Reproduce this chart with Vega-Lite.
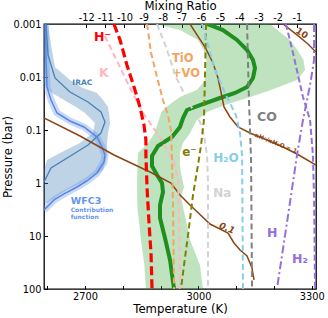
{
  "$schema": "https://vega.github.io/schema/vega-lite/v6.json",
  "width": 272,
  "height": 265,
  "autosize": {"type": "none"},
  "padding": {"left": 44, "top": 24, "right": 12, "bottom": 29},
  "config": {
    "font": "DejaVu Sans",
    "view": {"stroke": "black", "strokeWidth": 1.3},
    "axis": {"grid": false, "domain": false, "tickColor": "black", "tickSize": -3.5, "tickWidth": 1, "labelColor": "black", "titleColor": "black", "labelFontSize": 9.8, "titleFontSize": 11.7, "titleFontWeight": "normal", "labelFont": "DejaVu Sans", "titleFont": "DejaVu Sans"}
  },
  "datasets": {
    "species": [
      {"sp":"H-","mr":-10.55,"p":0.001},{"sp":"H-","mr":-10.23,"p":0.002},{"sp":"H-","mr":-9.87,"p":0.00594},{"sp":"H-","mr":-9.5,"p":0.01545},{"sp":"H-","mr":-9.19,"p":0.0368},{"sp":"H-","mr":-8.98,"p":0.0805},{"sp":"H-","mr":-8.88,"p":0.1545},{"sp":"H-","mr":-8.88,"p":0.296},{"sp":"H-","mr":-8.82,"p":1.24},{"sp":"H-","mr":-8.72,"p":5.44},{"sp":"H-","mr":-8.61,"p":22.8},{"sp":"H-","mr":-8.56,"p":100},
      {"sp":"K","mr":-11.02,"p":0.00168},{"sp":"K","mr":-10.49,"p":0.00419},{"sp":"K","mr":-9.71,"p":0.0161},{"sp":"K","mr":-9.03,"p":0.0478},{"sp":"K","mr":-8.3,"p":0.114},{"sp":"K","mr":-7.83,"p":0.219},{"sp":"K","mr":-7.41,"p":0.402},{"sp":"K","mr":-7.2,"p":0.878},{"sp":"K","mr":-7.15,"p":4.99},{"sp":"K","mr":-7.1,"p":100},
      {"sp":"TiO","mr":-8.82,"p":0.001},{"sp":"TiO","mr":-8.61,"p":0.00353},{"sp":"TiO","mr":-8.3,"p":0.01},{"sp":"TiO","mr":-7.99,"p":0.0272},{"sp":"TiO","mr":-7.73,"p":0.0521},{"sp":"TiO","mr":-7.57,"p":0.1},{"sp":"TiO","mr":-7.52,"p":0.296},{"sp":"TiO","mr":-7.47,"p":2.09},{"sp":"TiO","mr":-7.41,"p":100},
      {"sp":"Na","mr":-8.3,"p":0.001},{"sp":"Na","mr":-7.83,"p":0.00272},{"sp":"Na","mr":-7.31,"p":0.01},{"sp":"Na","mr":-6.84,"p":0.0219},{"sp":"Na","mr":-6.42,"p":0.0419},{"sp":"Na","mr":-6.06,"p":0.0706},{"sp":"Na","mr":-5.85,"p":0.124},{"sp":"Na","mr":-5.69,"p":0.296},{"sp":"Na","mr":-5.64,"p":0.878},{"sp":"Na","mr":-5.64,"p":100},
      {"sp":"e-","mr":-5.74,"p":0.001},{"sp":"e-","mr":-5.8,"p":0.0114},{"sp":"e-","mr":-5.85,"p":0.0648},{"sp":"e-","mr":-6.0,"p":0.192},{"sp":"e-","mr":-6.16,"p":0.458},{"sp":"e-","mr":-6.42,"p":1.68},{"sp":"e-","mr":-6.68,"p":9.58},{"sp":"e-","mr":-6.89,"p":35.3},{"sp":"e-","mr":-7.05,"p":100},
      {"sp":"H2O","mr":-5.95,"p":0.001},{"sp":"H2O","mr":-5.64,"p":0.00249},{"sp":"H2O","mr":-5.27,"p":0.00738},{"sp":"H2O","mr":-4.7,"p":0.0219},{"sp":"H2O","mr":-4.18,"p":0.0521},{"sp":"H2O","mr":-3.97,"p":0.114},{"sp":"H2O","mr":-3.86,"p":0.296},{"sp":"H2O","mr":-3.81,"p":100},
      {"sp":"CO","mr":-3.6,"p":0.001},{"sp":"CO","mr":-3.5,"p":0.0272},{"sp":"CO","mr":-3.39,"p":0.368},{"sp":"CO","mr":-3.34,"p":100},
      {"sp":"H","mr":-0.1,"p":0.001},{"sp":"H","mr":-0.1,"p":0.00478},{"sp":"H","mr":-0.31,"p":0.0142},{"sp":"H","mr":-0.68,"p":0.0648},{"sp":"H","mr":-0.99,"p":0.296},{"sp":"H","mr":-1.51,"p":5.44},{"sp":"H","mr":-2.04,"p":100},
      {"sp":"H2","mr":-1.57,"p":0.001},{"sp":"H2","mr":-1.2,"p":0.00353},{"sp":"H2","mr":-0.68,"p":0.0238},{"sp":"H2","mr":-0.31,"p":0.0648},{"sp":"H2","mr":-0.16,"p":0.296},{"sp":"H2","mr":-0.1,"p":2.09},{"sp":"H2","mr":-0.05,"p":100}
    ],
    "band": [
      {"p":0.001,"lo":2885,"hi":3189},{"p":0.0013,"lo":2951,"hi":3209},{"p":0.002,"lo":2999,"hi":3242},{"p":0.0031,"lo":3014,"hi":3262},{"p":0.00478,"lo":3021,"hi":3278},{"p":0.00738,"lo":3020,"hi":3282},{"p":0.0114,"lo":3018,"hi":3261},{"p":0.0176,"lo":2996,"hi":3192},{"p":0.0238,"lo":2951,"hi":3137},{"p":0.0338,"lo":2922,"hi":3070},{"p":0.0458,"lo":2902,"hi":3023},{"p":0.0648,"lo":2895,"hi":2996},{"p":0.114,"lo":2884,"hi":2978},{"p":0.176,"lo":2867,"hi":2959},{"p":0.272,"lo":2840,"hi":2951},{"p":0.458,"lo":2839,"hi":2951},{"p":0.706,"lo":2838,"hi":2955},{"p":1.19,"lo":2838,"hi":2962},{"p":1.84,"lo":2838,"hi":2954},{"p":3.23,"lo":2839,"hi":2961},{"p":6.2,"lo":2844,"hi":2970},{"p":11.9,"lo":2848,"hi":2978},{"p":35.3,"lo":2857,"hi":3004},{"p":100,"lo":2861,"hi":3012}
    ],
    "gline": [
      {"t":3022.7,"p":0.001},{"t":3065,"p":0.0013},{"t":3102,"p":0.002},{"t":3128.6,"p":0.0031},{"t":3144.4,"p":0.00478},{"t":3149.7,"p":0.00676},{"t":3144.4,"p":0.01044},{"t":3128.6,"p":0.01545},{"t":3096.8,"p":0.02},{"t":3057.1,"p":0.0249},{"t":3004.2,"p":0.0338},{"t":2969.8,"p":0.0419},{"t":2959.3,"p":0.0594},{"t":2951.3,"p":0.0878},{"t":2930.2,"p":0.1356},{"t":2893.1,"p":0.2},{"t":2877.2,"p":0.31},{"t":2877.2,"p":0.478},{"t":2890.5,"p":0.706},{"t":2903.7,"p":1.0},{"t":2906.3,"p":1.48},{"t":2898.4,"p":2.6},{"t":2898.4,"p":4.58},{"t":2911.6,"p":10.9},{"t":2924.9,"p":28.4},{"t":2935.5,"p":100}
    ],
    "brown": [
      {"c":"0.1","t":2575.7,"p":0.0521},{"c":"0.1","t":2591.5,"p":0.0594},{"c":"0.1","t":2686.8,"p":0.1298},{"c":"0.1","t":2776.7,"p":0.296},{"c":"0.1","t":2872,"p":0.62},{"c":"0.1","t":2927.5,"p":1.0},{"c":"0.1","t":2951.3,"p":1.68},{"c":"0.1","t":2977.8,"p":2.6},{"c":"0.1","t":3030.7,"p":5.94},{"c":"0.1","t":3078.3,"p":8.78},{"c":"0.1","t":3094.2,"p":13.56},{"c":"0.1","t":3110.1,"p":18.37},{"c":"0.1","t":3128.6,"p":23.84},{"c":"0.1","t":3141.8,"p":40.2},{"c":"0.1","t":3147.1,"p":67.6},
      {"c":"1","t":2977.8,"p":0.001},{"c":"1","t":2996.3,"p":0.00161},{"c":"1","t":3017.5,"p":0.00272},{"c":"1","t":3038.6,"p":0.00544},{"c":"1","t":3051.9,"p":0.01044},{"c":"1","t":3059.8,"p":0.0192},{"c":"1","t":3067.7,"p":0.0368},{"c":"1","t":3083.6,"p":0.0568},{"c":"1","t":3104.8,"p":0.0878},{"c":"1","t":3136.5,"p":0.114},{"c":"1","t":3181.5,"p":0.1545},{"c":"1","t":3223.8,"p":0.2093},{"c":"1","t":3260.8,"p":0.2837},{"c":"1","t":3311.1,"p":0.4575},
      {"c":"10","t":3223.8,"p":0.001},{"c":"10","t":3260.8,"p":0.00161},{"c":"10","t":3289.9,"p":0.00238},{"c":"10","t":3311.1,"p":0.00338}
    ],
    "irac_band": [
      {"p":0.001,"lo":0,"hi":0.066},{"p":0.00249,"lo":0,"hi":0.115},{"p":0.00648,"lo":0,"hi":0.18},{"p":0.0114,"lo":0,"hi":0.426},{"p":0.0161,"lo":0.033,"hi":0.639},{"p":0.02,"lo":0.131,"hi":0.869},{"p":0.0272,"lo":0.328,"hi":0.967},{"p":0.0368,"lo":0.525,"hi":1.049},{"p":0.0478,"lo":0.672,"hi":1.066},{"p":0.0738,"lo":0.836,"hi":1.082},{"p":0.114,"lo":0.803,"hi":1.049},{"p":0.176,"lo":0.59,"hi":1.033},{"p":0.272,"lo":0.262,"hi":1.033},{"p":0.368,"lo":0.049,"hi":1.016},{"p":0.568,"lo":0,"hi":0.967},{"p":0.878,"lo":0,"hi":0.721},{"p":1.356,"lo":0,"hi":0.377},{"p":2.384,"lo":0,"hi":0.049}
    ],
    "irac": [
      {"cf":0.033,"p":0.001},{"cf":0.066,"p":0.00385},{"cf":0.18,"p":0.0104},{"cf":0.426,"p":0.0192},{"cf":0.721,"p":0.0296},{"cf":0.934,"p":0.0458},{"cf":1.0,"p":0.0706},{"cf":0.934,"p":0.114},{"cf":0.721,"p":0.192},{"cf":0.459,"p":0.296},{"cf":0.115,"p":0.521},{"cf":0,"p":0.958}
    ],
    "wfc3": [
      {"cf":0.025,"p":0.001},{"cf":0.033,"p":0.00478},{"cf":0.049,"p":0.0155},{"cf":0.115,"p":0.0272},{"cf":0.213,"p":0.0478},{"cf":0.426,"p":0.0676},{"cf":0.656,"p":0.0878},{"cf":0.869,"p":0.136},{"cf":0.951,"p":0.209},{"cf":1.0,"p":0.296},{"cf":0.984,"p":0.402},{"cf":0.869,"p":0.648},{"cf":0.705,"p":0.917},{"cf":0.541,"p":1.19},{"cf":0.328,"p":1.61},{"cf":0.164,"p":2.09},{"cf":0,"p":3.23}
    ]
  },
  "encoding": {
    "y": {"field": "p", "type": "quantitative", "scale": {"type": "log", "domain": [0.001, 100], "reverse": true, "nice": false}, "axis": {"title": "Pressure (bar)", "values": [0.001, 0.01, 0.1, 1, 10, 100], "format": "~g", "labelPadding": 6.5, "titlePadding": -1}}
  },
  "layer": [
    {
      "encoding": {"x": {"field": "cf", "type": "quantitative", "scale": {"domain": [0, 4.459], "nice": false, "zero": false}, "axis": null}},
      "layer": [
        {"data": {"name": "irac_band"}, "mark": {"type": "area", "orient": "horizontal", "color": "#4682b4", "opacity": 0.35, "clip": true}, "encoding": {"x": {"field": "lo", "type": "quantitative", "scale": {"domain": [0, 4.459], "nice": false, "zero": false}, "axis": null}, "x2": {"field": "hi"}}},
        {"data": {"name": "wfc3"}, "mark": {"type": "line", "color": "#6495ed", "opacity": 0.35, "strokeWidth": 7, "clip": true}, "encoding": {"order": {"field": "p", "type": "quantitative"}}},
        {"data": {"name": "irac"}, "mark": {"type": "line", "color": "#4682b4", "strokeWidth": 1.3, "clip": true}, "encoding": {"order": {"field": "p", "type": "quantitative"}}},
        {"data": {"name": "wfc3"}, "mark": {"type": "line", "color": "#5a86e0", "strokeWidth": 1.5, "clip": true}, "encoding": {"order": {"field": "p", "type": "quantitative"}}},
        {"data": {"values": [{"cf": 0.628, "p": 0.01315, "txt": "IRAC"}]}, "mark": {"type": "text", "color": "#4a7fb8", "fontWeight": "bold", "fontSize": 7.5, "align": "center", "baseline": "middle"}, "encoding": {"text": {"field": "txt"}}},
        {"data": {"values": [{"cf": 0.438, "p": 2.19, "txt": "WFC3"}]}, "mark": {"type": "text", "color": "#6495ed", "fontWeight": "bold", "fontSize": 9.5, "align": "left", "baseline": "middle"}, "encoding": {"text": {"field": "txt"}}},
        {"data": {"values": [{"cf": 0.438, "p": 3.23, "txt": "Contribution"}, {"cf": 0.438, "p": 4.29, "txt": "function"}]}, "mark": {"type": "text", "color": "#6495ed", "fontWeight": "bold", "fontSize": 6, "align": "left", "baseline": "middle"}, "encoding": {"text": {"field": "txt"}}}
      ]
    },
    {
      "encoding": {"x": {"field": "t", "type": "quantitative", "scale": {"domain": [2591.5, 3311.1], "nice": false, "zero": false}, "axis": {"orient": "bottom", "title": "Temperature (K)", "values": [2600, 2700, 2800, 2900, 3000, 3100, 3200, 3300], "labelExpr": "datum.value % 300 === 0 ? format(datum.value, 'd') : ''", "labelPadding": 5.5, "titlePadding": 3}}},
      "layer": [
        {"data": {"name": "band"}, "mark": {"type": "area", "orient": "horizontal", "color": "#2ca02c", "opacity": 0.3, "clip": true}, "encoding": {"x": {"field": "lo", "type": "quantitative", "scale": {"domain": [2591.5, 3311.1], "nice": false, "zero": false}, "axis": {"orient": "bottom", "title": "Temperature (K)", "values": [2600, 2700, 2800, 2900, 3000, 3100, 3200, 3300], "labelExpr": "datum.value % 300 === 0 ? format(datum.value, 'd') : ''", "labelPadding": 5.5, "titlePadding": 3}}, "x2": {"field": "hi"}}},
        {"data": {"name": "gline"}, "mark": {"type": "line", "color": "#1f8f1f", "strokeWidth": 4, "clip": true}, "encoding": {"order": {"field": "p", "type": "quantitative"}}},
        {"data": {"name": "brown"}, "mark": {"type": "line", "color": "#8b4513", "strokeWidth": 1.5, "clip": true}, "encoding": {"detail": {"field": "c", "type": "nominal"}, "order": {"field": "p", "type": "quantitative"}}},
        {"data": {"values": [{"t": 2724, "p": 0.00176, "txt": "H⁻"}]}, "mark": {"type": "text", "color": "#ff0000", "fontWeight": "bold", "fontSize": 12.5, "align": "left", "baseline": "middle"}, "encoding": {"text": {"field": "txt"}}},
        {"data": {"values": [{"t": 2737, "p": 0.0084, "txt": "K"}]}, "mark": {"type": "text", "color": "#ffb6c1", "fontWeight": "bold", "fontSize": 12.5, "align": "left", "baseline": "middle"}, "encoding": {"text": {"field": "txt"}}},
        {"data": {"values": [{"t": 2930, "p": 0.00465, "txt": "TiO"}, {"t": 2930, "p": 0.0089, "txt": "+VO"}]}, "mark": {"type": "text", "color": "#f4a460", "fontWeight": "bold", "fontSize": 11.5, "align": "left", "baseline": "middle"}, "encoding": {"text": {"field": "txt"}}},
        {"data": {"values": [{"t": 2957, "p": 0.26, "txt": "e⁻"}]}, "mark": {"type": "text", "color": "#808000", "fontWeight": "bold", "fontSize": 12, "align": "left", "baseline": "middle"}, "encoding": {"text": {"field": "txt"}}},
        {"data": {"values": [{"t": 3039, "p": 0.338, "txt": "H₂O"}]}, "mark": {"type": "text", "color": "#87ceeb", "fontWeight": "bold", "fontSize": 12, "align": "left", "baseline": "middle"}, "encoding": {"text": {"field": "txt"}}},
        {"data": {"values": [{"t": 3039, "p": 1.545, "txt": "Na"}]}, "mark": {"type": "text", "color": "#d3d3d3", "fontWeight": "bold", "fontSize": 12, "align": "left", "baseline": "middle"}, "encoding": {"text": {"field": "txt"}}},
        {"data": {"values": [{"t": 3155, "p": 0.0568, "txt": "CO"}]}, "mark": {"type": "text", "color": "#808080", "fontWeight": "bold", "fontSize": 12.5, "align": "left", "baseline": "middle"}, "encoding": {"text": {"field": "txt"}}},
        {"data": {"values": [{"t": 3181.5, "p": 8.78, "txt": "H"}, {"t": 3247.6, "p": 27.2, "txt": "H₂"}]}, "mark": {"type": "text", "color": "#9370db", "fontWeight": "bold", "fontSize": 12.5, "align": "left", "baseline": "middle"}, "encoding": {"text": {"field": "txt"}}},
        {"data": {"values": [{"t": 3274, "p": 0.00148, "txt": "10"}]}, "mark": {"type": "text", "color": "#8b4513", "fontWeight": "bold", "fontSize": 9, "angle": 35, "align": "center", "baseline": "middle"}, "encoding": {"text": {"field": "txt"}}},
        {"data": {"values": [{"t": 3075.7, "p": 7.06, "txt": "0.1"}]}, "mark": {"type": "text", "color": "#8b4513", "fontWeight": "bold", "fontStyle": "italic", "fontSize": 9, "angle": 22, "align": "center", "baseline": "middle"}, "encoding": {"text": {"field": "txt"}}},
        {"data": {"values": [{"t": 3205, "p": 0.176, "txt": "κH⁻/κH₂O = 1"}]}, "mark": {"type": "text", "color": "#8b4513", "fontWeight": "bold", "fontSize": 6, "angle": 22, "align": "center", "baseline": "middle"}, "encoding": {"text": {"field": "txt"}}}
      ]
    },
    {
      "encoding": {"x": {"field": "mr", "type": "quantitative", "scale": {"domain": [-14.2, 0], "nice": false, "zero": false}, "axis": {"orient": "top", "title": "Mixing Ratio", "values": [-12, -11, -10, -9, -8, -7, -6, -5, -4, -3, -2, -1], "labelExpr": "'-' + abs(datum.value)", "labelPadding": 5, "titlePadding": 1}}},
      "layer": [
        {"data": {"name": "species"}, "transform": [{"filter": "datum.sp !== 'H-'"}], "mark": {"type": "line", "strokeWidth": 2, "clip": true}, "encoding": {
          "color": {"field": "sp", "type": "nominal", "legend": null, "scale": {"domain": ["K", "TiO", "Na", "e-", "H2O", "CO", "H", "H2"], "range": ["#ffb6c1", "#f4a460", "#d3d3d3", "#808000", "#87ceeb", "#808080", "#9370db", "#9370db"]}},
          "strokeDash": {"field": "sp", "type": "nominal", "legend": null, "scale": {"domain": ["K", "TiO", "Na", "e-", "H2O", "CO", "H", "H2"], "range": [[6, 3.5], [6, 3.5], [6, 3.5], [6, 3.5], [6, 3.5], [6, 3.5], [8, 3, 2, 3], [6, 3]]}},
          "order": {"field": "p", "type": "quantitative"}}},
        {"data": {"name": "species"}, "transform": [{"filter": "datum.sp === 'H-'"}], "mark": {"type": "line", "strokeWidth": 3.2, "color": "#ff0000", "strokeDash": [9, 4], "clip": true}, "encoding": {"order": {"field": "p", "type": "quantitative"}}}
      ]
    }
  ],
  "resolve": {"scale": {"x": "independent"}, "axis": {"x": "independent"}}
}
